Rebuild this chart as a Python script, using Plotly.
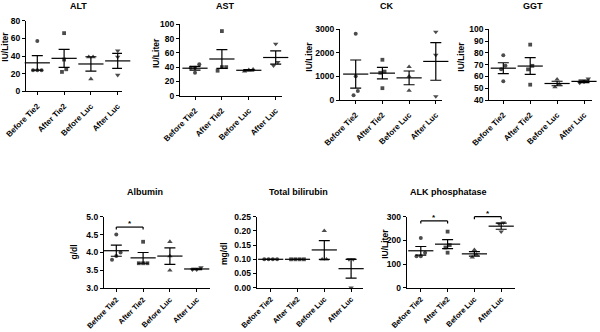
import plotly.graph_objects as go

W, H = 600, 332
FONT = "Liberation Sans, Arial, sans-serif"
INK = "#000000"

groups = ["Before Tie2", "After Tie2", "Before Luc", "After Luc"]
symbols = ["circle", "square", "triangle-up", "triangle-down"]
sizes = [4.0, 3.8, 4.8, 4.8]

# ---- data ----
alt_vals = [[57, 24, 24, 24], [66, 36, 22, 25], [39, 39, 14], [46, 39, 18.5]]
alt_mean = [32.3, 37.4, 31.0, 34.5]
alt_sem = [8.2, 10.2, 8.2, 8.5]

ast_vals = [[44, 39, 39, 32], [90.5, 40, 35, 40], [36, 37, 34], [72.5, 47, 42]]
ast_mean = [38.5, 51.4, 35.6, 53.5]
ast_sem = [2.6, 13.0, 1.0, 9.4]

ck_vals = [[2800, 1000, 380, 200], [1700, 1200, 1150, 500], [1400, 1000, 400], [2880, 1900, 150]]
ck_mean = [1095, 1135, 935, 1630]
ck_sem = [595, 245, 290, 795]

ggt_vals = [[78, 69, 66, 56], [87, 69, 66, 53], [57.5, 53.5, 51], [58, 55.5, 54.5]]
ggt_mean = [67.0, 68.8, 54.0, 55.8]
ggt_sem = [4.6, 7.1, 1.9, 1.0]

alb_vals = [[4.5, 4.0, 3.9, 3.8], [4.3, 3.7, 3.7, 3.7], [4.3, 3.9, 3.5], [3.58, 3.52, 3.52]]
alb_mean = [4.05, 3.85, 3.9, 3.54]
alb_sem = [0.155, 0.15, 0.23, 0.02]

bil_vals = [[0.1, 0.1, 0.1, 0.1], [0.1, 0.1, 0.1, 0.1], [0.2, 0.1, 0.1], [0.1, 0.1, 0.0]]
bil_mean = [0.1, 0.1, 0.133, 0.067]
bil_sem = [0.0, 0.0, 0.033, 0.033]

alk_vals = [[210, 148, 133, 133], [237, 180, 170, 148], [160, 140, 128], [275, 270, 237]]
alk_mean = [156, 184, 143, 260]
alk_sem = [18, 19, 9.4, 13]

# significance brackets: (group a, group b, level)
alb_sig = [(0, 1, 4.71)]
alk_sig = [(0, 1, 282), (2, 3, 300)]

# ---- layout of panels (pixel boxes) ----
TOP = dict(lab_size=8, standoff=3)
BOTTOM = dict(lab_size=7.5, standoff=0)
panels = [
    dict(title="ALT", ytitle="IU/Liter", vals=alt_vals, mean=alt_mean, sem=alt_sem, lo=0, hi=80, dtick=20, fmt="d",
         box=(26, 122, 20.8, 91.3), c0=37.3, st=26.8, tpos=(78.3, 6), ypos=(5, 46.7), sig=[], row=TOP),
    dict(title="AST", ytitle="IU/Liter", vals=ast_vals, mean=ast_mean, sem=ast_sem, lo=0, hi=100, dtick=20, fmt="d",
         box=(180, 282, 24.3, 95.7), c0=195, st=26.9, tpos=(225.8, 6), ypos=(156, 53), sig=[], row=TOP),
    dict(title="CK", ytitle="IU/Liter", vals=ck_vals, mean=ck_mean, sem=ck_sem, lo=0, hi=3000, dtick=1000, fmt="d",
         box=(340, 442, 29, 100), c0=355.7, st=26.7, tpos=(387, 6), ypos=(309, 56.7), sig=[], row=TOP),
    dict(title="GGT", ytitle="IU/Liter", vals=ggt_vals, mean=ggt_mean, sem=ggt_sem, lo=40, hi=100, dtick=10, fmt="d",
         box=(489.3, 592, 29.3, 100), c0=503.3, st=26.9, tpos=(532.8, 6), ypos=(461, 56.7), sig=[], row=TOP),
    dict(title="Albumin", ytitle="g/dl", vals=alb_vals, mean=alb_mean, sem=alb_sem, lo=3, hi=5, dtick=0.5, fmt=".1f",
         box=(104, 210, 216.7, 288.3), c0=116.3, st=26.8, tpos=(145.3, 192), ypos=(73.5, 252), sig=alb_sig, row=BOTTOM),
    dict(title="Total bilirubin", ytitle="mg/dl", vals=bil_vals, mean=bil_mean, sem=bil_sem, lo=0, hi=0.25, dtick=0.05, fmt=".2f",
         box=(256.7, 363, 216.7, 287.7), c0=270.7, st=26.8, tpos=(298.3, 192), ypos=(224.5, 253.5), sig=[], row=BOTTOM),
    dict(title="ALK phosphatase", ytitle="IU/Liter", vals=alk_vals, mean=alk_mean, sem=alk_sem, lo=0, hi=300, dtick=100, fmt="d",
         box=(406.7, 515, 216.7, 287.7), c0=420.8, st=26.8, tpos=(448.8, 192), ypos=(385.5, 244.3), sig=alk_sig, row=BOTTOM),
]


def spread(values, ppu, diam=4.4, step=0.16):
    idx = sorted(range(len(values)), key=lambda i: values[i])
    offs = [0.0] * len(values)
    clusters, cur = [], [idx[0]]
    for i in idx[1:]:
        if abs(values[i] - values[cur[-1]]) * ppu < diam:
            cur.append(i)
        else:
            clusters.append(cur)
            cur = [i]
    clusters.append(cur)
    for c in clusters:
        n = len(c)
        for k, i in enumerate(c):
            offs[i] = (k - (n - 1) / 2) * step
    return offs


fig = go.Figure()
annotations = []
shapes = []
ytickfont = dict(family=FONT, size=8.5, color=INK, weight="bold")

for n, p in enumerate(panels, start=1):
    s = "" if n == 1 else str(n)
    xa, ya = "x" + s, "y" + s
    xl, xr, yt, yb = p["box"]
    c0, st = p["c0"], p["st"]
    lo, hi = p["lo"], p["hi"]
    ppu = (yb - yt) / (hi - lo)

    px, py, sym, sz = [], [], [], []
    for g, vals in enumerate(p["vals"]):
        offs = spread(vals, ppu)
        for v, o in zip(vals, offs):
            px.append(g + o)
            py.append(v)
            sym.append(symbols[g])
            sz.append(sizes[g])
    fig.add_trace(go.Scatter(x=list(range(len(groups))), y=p["mean"], mode="markers", xaxis=xa, yaxis=ya,
                             marker=dict(symbol="line-ew", size=18, color=INK, line=dict(width=1.2, color=INK)),
                             error_y=dict(type="data", array=p["sem"], visible=True, width=5.5, thickness=1.2, color=INK),
                             cliponaxis=False, showlegend=False, hoverinfo="skip"))
    fig.add_trace(go.Scatter(x=px, y=py, mode="markers", xaxis=xa, yaxis=ya,
                             marker=dict(symbol=sym, size=sz, color=INK, line=dict(width=0)),
                             cliponaxis=False, showlegend=False, hoverinfo="skip"))

    xtickfont = dict(family=FONT, size=p["row"]["lab_size"], color=INK, weight="bold")
    fig.update_layout(**{
        "xaxis" + s: dict(domain=[xl / W, xr / W], range=[(xl - c0) / st, (xr - c0) / st], anchor=ya,
                          tickmode="array", tickvals=list(range(len(groups))), ticktext=groups, tickangle=-45,
                          showline=True, linecolor=INK, linewidth=1.2, ticks="outside", ticklen=3, tickwidth=1.2,
                          tickcolor=INK, showgrid=False, zeroline=False, tickfont=xtickfont, automargin=False,
                          ticklabelstandoff=p["row"]["standoff"]),
        "yaxis" + s: dict(domain=[1 - yb / H, 1 - yt / H], range=[lo, hi], anchor=xa,
                          tickmode="linear", tick0=lo, dtick=p["dtick"], tickformat=p["fmt"],
                          showline=True, linecolor=INK, linewidth=1.2, ticks="outside", ticklen=3, tickwidth=1.2,
                          tickcolor=INK, showgrid=False, zeroline=False, tickfont=ytickfont, automargin=False),
    })

    annotations.append(dict(text=p["title"], x=p["tpos"][0] / W, y=1 - p["tpos"][1] / H, xref="paper", yref="paper",
                            xanchor="center", yanchor="middle", showarrow=False,
                            font=dict(family=FONT, size=9, color=INK, weight="bold")))
    annotations.append(dict(text=p["ytitle"], x=p["ypos"][0] / W, y=1 - p["ypos"][1] / H, xref="paper", yref="paper",
                            xanchor="center", yanchor="middle", showarrow=False, textangle=-90,
                            font=dict(family=FONT, size=8.5, color=INK, weight="bold")))

    tick = 2.5 / (yb - yt)
    for a, b, lvl in p["sig"]:
        yd = (lvl - lo) / (hi - lo)
        yref = ya + " domain"
        shapes.append(dict(type="line", xref=xa, yref=yref, x0=a, x1=b, y0=yd, y1=yd, line=dict(color=INK, width=1.2)))
        shapes.append(dict(type="line", xref=xa, yref=yref, x0=a, x1=a, y0=yd, y1=yd - tick, line=dict(color=INK, width=1.2)))
        shapes.append(dict(type="line", xref=xa, yref=yref, x0=b, x1=b, y0=yd, y1=yd - tick, line=dict(color=INK, width=1.2)))
        annotations.append(dict(text="*", x=(a + b) / 2, y=yd, xref=xa, yref=yref, xanchor="center", yanchor="bottom",
                                yshift=-3, showarrow=False, font=dict(family=FONT, size=8, color=INK, weight="bold")))

fig.update_layout(width=W, height=H, margin=dict(l=0, r=0, t=0, b=0), template="none",
                  paper_bgcolor="white", plot_bgcolor="rgba(0,0,0,0)",
                  annotations=annotations, shapes=shapes, showlegend=False)

fig.write_html("out.html")
